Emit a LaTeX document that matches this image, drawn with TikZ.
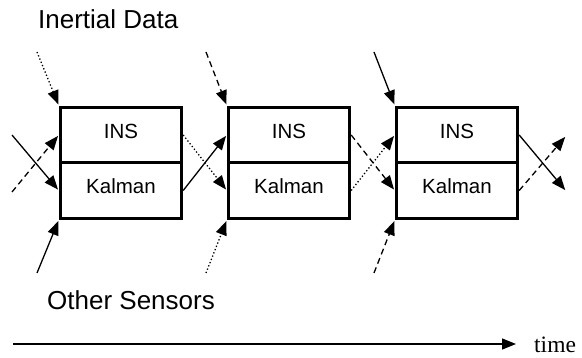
\documentclass[tikz,border=0pt]{standalone}
\usepackage{fontspec}
\setmainfont{Liberation Sans}
\newfontfamily\timefont{Liberation Serif}
\usetikzlibrary{arrows.meta}
\begin{document}
\begin{tikzpicture}[x=1pt,y=-1pt,
  half/.style={draw, line width=3.4pt, minimum width=121pt, minimum height=55.5pt, inner sep=0pt,
    text height=15pt, text depth=8pt, font=\fontsize{20.5}{24}\selectfont},
  arr/.style={line width=1.3pt, -{Triangle[length=14pt,width=11pt]}, shorten >=1.2pt},
  solid arr/.style={arr},
  dsh/.style={arr, dash pattern=on 6pt off 4pt},
  dot/.style={arr, dash pattern=on 1.3pt off 2.2pt},
  lbl/.style={inner sep=0pt, font=\fontsize{26}{31}\selectfont}
]
\useasboundingbox[fill=white] (0,0) rectangle (582,358);
\foreach \i/\x in {1/121,2/289,3/457} {
  \node[half] (ins\i) at (\x,135) {INS};
  \node[half] (kal\i) at (\x,190.5) {Kalman};
}
% labels
\node[lbl, anchor=west] (inertial) at (38,19.5) {Inertial Data};
\node[lbl, anchor=west] (other) at (47,300.5) {Other Sensors};
\node[inner sep=0pt, anchor=base west, font=\timefont\fontsize{23.5}{28}\selectfont] (time) at (534,353) {time};
% free ends
\coordinate (top1) at (37,52);
\coordinate (top2) at (206,52);
\coordinate (top3) at (374,52);
\coordinate (bot1) at (37,273);
\coordinate (bot2) at (206,273);
\coordinate (bot3) at (374,273);
\coordinate (inA) at (12,135);
\coordinate (inB) at (12,192);
\coordinate (outA) at (566,136);
\coordinate (outB) at (566,191);
\coordinate (t0) at (13,344);
\coordinate (t1) at (516,344);
% box 1 inputs
\draw[dot] (top1) -- (ins1.north west);
\draw[solid arr] (bot1) -- (kal1.south west);
\draw[solid arr] (inA) -- (kal1.west);
\draw[dsh] (inB) -- (ins1.west);
% box 1 -> box 2
\draw[dot] (ins1.east) -- (kal2.west);
\draw[solid arr] (kal1.east) -- (ins2.west);
% box 2 inputs
\draw[dsh] (top2) -- (ins2.north west);
\draw[dot] (bot2) -- (kal2.south west);
% box 2 -> box 3
\draw[dsh] (ins2.east) -- (kal3.west);
\draw[dot] (kal2.east) -- (ins3.west);
% box 3 inputs
\draw[solid arr] (top3) -- (ins3.north west);
\draw[dsh] (bot3) -- (kal3.south west);
% box 3 outputs
\draw[solid arr] (ins3.east) -- (outB);
\draw[dsh] (kal3.east) -- (outA);
% time axis
\draw[line width=1.3pt, -{Triangle[length=14pt,width=11pt]}] (t0) -- (t1);
\end{tikzpicture}
\end{document}
